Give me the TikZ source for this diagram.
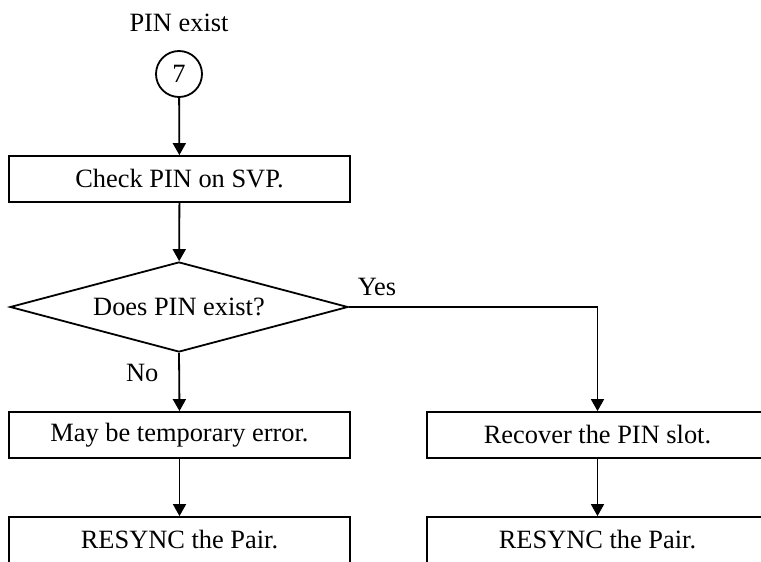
\documentclass[tikz,border=0pt]{standalone}
\usepackage{fontspec}
\setmainfont{Liberation Serif}
\usetikzlibrary{shapes.geometric, arrows.meta, positioning}

\begin{document}
\begin{tikzpicture}[
	x=0.5pt, y=-0.5pt,
	>={Triangle[length=6pt, width=6.5pt]},
	line width=0.9pt,
	font=\fontsize{13.2}{16}\selectfont,
	% Styles for the flow chart blocks
	stepbox/.style={draw, rectangle, minimum width=170.5pt, minimum height=23pt, inner sep=0pt},
	decisionbox/.style={draw, diamond, aspect=3.75, minimum width=169pt, minimum height=45pt, inner sep=1pt},
	connector/.style={draw, circle, minimum size=23pt, inner sep=0pt},
	% Styles for text
	labeltext/.style={inner sep=1pt}
	]
	
	% NOTE: one unit is one pixel of the 761 x 562 page.
	\clip (0, 0) rectangle (761, 562);
	
	% ==========================================
	% ENTRY: CONNECTOR 7
	% ==========================================
	\node[labeltext] (pinlabel) at (179, 23) {PIN exist};
	\node[connector] (conn7) at (179, 74) {7};
	
	% ==========================================
	% CHECK AND DECISION
	% ==========================================
	\node[stepbox] (check) at (179.5, 179) {Check PIN on SVP.};
	\node[decisionbox] (decide) at (179, 307) {Does PIN exist?};
	
	% ==========================================
	% LEFT BRANCH (No)
	% ==========================================
	\node[stepbox] (tmperr) at (179.5, 435) {May be temporary error.};
	\node[stepbox] (resyncl) at (179.5, 540) {RESYNC the Pair.};
	
	% ==========================================
	% RIGHT BRANCH (Yes)
	% ==========================================
	\node[stepbox] (recover) at (597.5, 435) {Recover the PIN slot.};
	\node[stepbox] (resyncr) at (597.5, 540) {RESYNC the Pair.};
	
	% Arrows
	\draw[->] (conn7) -- (check);
	\draw[->] (check) -- (decide);
	\draw[->] (decide.south) -- node[labeltext, pos=0.35, left=9pt] {No} (tmperr.north);
	\draw[->] (decide.east) -| node[labeltext, pos=0, above right=4pt and 3pt] {Yes} (recover.north);
	\draw[->] (tmperr) -- (resyncl);
	\draw[->] (recover) -- (resyncr);
	
\end{tikzpicture}
\end{document}
